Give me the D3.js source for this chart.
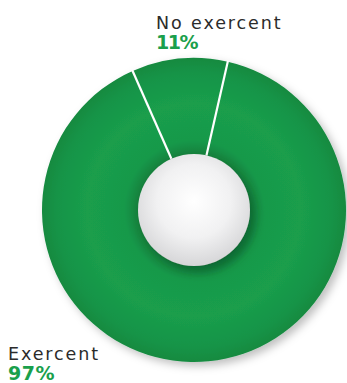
<!DOCTYPE html>
<html><head><meta charset="utf-8">
<script src="https://cdn.jsdelivr.net/npm/d3@7"></script>
<style>html,body{margin:0;padding:0;background:#fff;overflow:hidden}</style>
</head><body>
<script>
const categories = ["Exercent", "No exercent"];
const values = [97, 11];
const labels = ["97%", "11%"];

const W = 347, H = 383;
const cx = 194, cy = 210, rOuter = 152, rInner = 56;

const svg = d3.select("body").append("svg").attr("width", W).attr("height", H);
const defs = svg.append("defs");

const g1 = defs.append("radialGradient").attr("id", "ringGrad")
  .attr("gradientUnits", "userSpaceOnUse").attr("cx", 0).attr("cy", 0).attr("r", rOuter);
[[0.36, "#127f3c"], [0.46, "#18994a"], [0.7, "#1a9e4c"], [0.9, "#179447"], [1, "#148a40"]]
  .forEach(([o, c]) => g1.append("stop").attr("offset", o).attr("stop-color", c));

const g2 = defs.append("radialGradient").attr("id", "holeGrad")
  .attr("cx", "0.5").attr("cy", "0.42").attr("r", "0.6");
g2.append("stop").attr("offset", 0).attr("stop-color", "#ffffff");
g2.append("stop").attr("offset", 0.55).attr("stop-color", "#f1f1f2");
g2.append("stop").attr("offset", 1).attr("stop-color", "#d4d4d6");

const f = defs.append("filter").attr("id", "shadow").attr("x", "-20%").attr("y", "-20%").attr("width", "140%").attr("height", "140%");
f.append("feDropShadow").attr("dx", 4).attr("dy", 4).attr("stdDeviation", 4).attr("flood-color", "#000").attr("flood-opacity", 0.25);

const f2 = defs.append("filter").attr("id", "shadow2").attr("x", "-40%").attr("y", "-40%").attr("width", "180%").attr("height", "180%");
f2.append("feDropShadow").attr("dx", 5).attr("dy", 6).attr("stdDeviation", 5).attr("flood-color", "#0a4a22").attr("flood-opacity", 0.45);

const smallAngle = values[1] / d3.sum(values) * 2 * Math.PI;
const centerSmall = -5.5 * Math.PI / 180;
const start = centerSmall + smallAngle / 2;

const pie = d3.pie().sort(null).value(d => d)
  .startAngle(start).endAngle(start + 2 * Math.PI);
const arcs = pie(values);
const arc = d3.arc().innerRadius(rInner - 2).outerRadius(rOuter);

const chart = svg.append("g").attr("transform", `translate(${cx},${cy})`);
const ring = chart.append("g").attr("filter", "url(#shadow)");
ring.selectAll("path").data(arcs).join("path")
  .attr("d", arc).attr("fill", "url(#ringGrad)");

// white separator lines
const sep = arcs.map(a => a.startAngle);
chart.selectAll("line.sep").data(sep).join("line").attr("class", "sep")
  .attr("x1", a => Math.sin(a) * rInner).attr("y1", a => -Math.cos(a) * rInner)
  .attr("x2", a => Math.sin(a) * (rOuter + 1)).attr("y2", a => -Math.cos(a) * (rOuter + 1))
  .attr("stroke", "#fff").attr("stroke-width", 2.2);

chart.append("circle").attr("r", rInner).attr("fill", "url(#holeGrad)").attr("filter", "url(#shadow2)");

const font = "'DejaVu Sans', sans-serif";
const lab = [
  {name: categories[1], val: labels[1], x: 156, y: 29},
  {name: categories[0], val: labels[0], x: 8, y: 360}
];
lab.forEach(d => {
  svg.append("text").attr("x", d.x).attr("y", d.y).text(d.name)
    .attr("font-family", font).attr("font-size", 17.5).attr("fill", "#2b2b2b")
    .attr("letter-spacing", 1.9);
  svg.append("text").attr("x", d.x).attr("y", d.y + 20).text(d.val)
    .attr("font-family", font).attr("font-size", 19).attr("font-weight", "bold").attr("fill", "#1aa04c")
    .attr("letter-spacing", d.val === "11%" ? -1.5 : 0.5);
});
</script>
</body></html>
